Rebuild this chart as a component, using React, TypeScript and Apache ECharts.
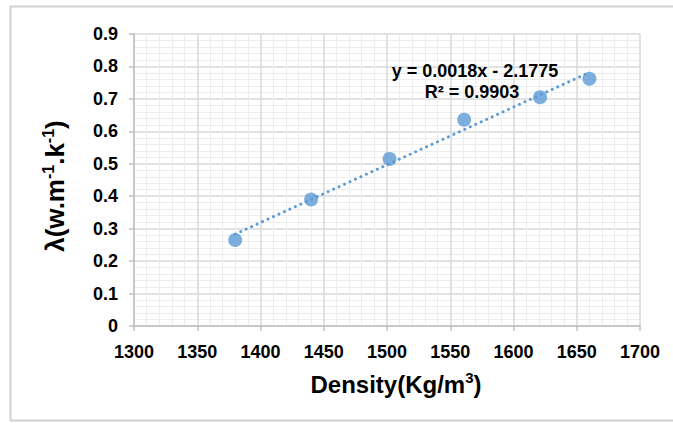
import React, { useEffect, useRef } from "react";
import * as echarts from "echarts";

const densities = [1380, 1440, 1502, 1561, 1621, 1660];
const conductivity = [0.265, 0.39, 0.515, 0.636, 0.705, 0.762];
const equationLines = ["y = 0.0018x - 2.1775", "R² = 0.9903"];
const xAxisTitle = "Density(Kg/m{sup|3})";
const yAxisTitle = "λ(w.m{sup|-1}.k{sup|-1})";

function fitLine(xs: number[], ys: number[]) {
  const n = xs.length;
  const mx = xs.reduce((a, b) => a + b, 0) / n;
  const my = ys.reduce((a, b) => a + b, 0) / n;
  let sxy = 0;
  let sxx = 0;
  for (let i = 0; i < n; i++) {
    sxy += (xs[i] - mx) * (ys[i] - my);
    sxx += (xs[i] - mx) * (xs[i] - mx);
  }
  const slope = sxy / sxx;
  return { slope, intercept: my - slope * mx };
}

export default function App() {
  const ref = useRef<HTMLDivElement>(null);
  useEffect(() => {
    document.body.style.margin = "0";
    if (!ref.current) return;
    const chart = echarts.init(ref.current, undefined, { renderer: "svg" });
    const { slope, intercept } = fitLine(densities, conductivity);
    const xMin = Math.min(...densities);
    const xMax = Math.max(...densities);
    const trend = [
      [xMin, slope * xMin + intercept],
      [xMax, slope * xMax + intercept],
    ];
    const font = "'Liberation Sans', Arial, sans-serif";
    const color = "#5b9bd5";
    const supStyle = {
      fontFamily: font,
      fontSize: 15,
      fontWeight: "bold",
      color: "#000",
      lineHeight: 14,
      verticalAlign: "top",
    };
    chart.setOption({
      animation: false,
      backgroundColor: "#ffffff",
      textStyle: { fontFamily: font },
      grid: { left: 134, right: 33, top: 34, bottom: 97, containLabel: false },
      xAxis: {
        type: "value",
        min: 1300,
        max: 1700,
        interval: 50,
        name: xAxisTitle,
        nameLocation: "middle",
        nameGap: 44,
        nameTextStyle: {
          fontFamily: font,
          fontSize: 24,
          fontWeight: "bold",
          color: "#000",
          lineHeight: 29,
          padding: [0, 0, 0, 18],
          rich: { sup: supStyle },
        },
        axisLine: { show: true, lineStyle: { color: "#bfbfbf", width: 1.5 } },
        axisTick: { show: true, length: 5, inside: false, lineStyle: { color: "#bfbfbf", width: 1.5 } },
        axisLabel: {
          fontFamily: font,
          fontSize: 18,
          fontWeight: "bold",
          color: "#000",
          margin: 17,
          formatter: (v: number) => String(v),
        },
        splitLine: { show: true, lineStyle: { color: "#d9d9d9", width: 1.5 } },
        minorTick: { show: false, splitNumber: 5 },
        minorSplitLine: { show: true, lineStyle: { color: "#ededed", width: 1 } },
      },
      yAxis: {
        type: "value",
        min: 0,
        max: 0.9,
        interval: 0.1,
        name: yAxisTitle,
        nameLocation: "middle",
        nameGap: 64,
        nameTextStyle: {
          fontFamily: font,
          fontSize: 26,
          fontWeight: "bold",
          color: "#000",
          lineHeight: 30,
          padding: [0, 12, 0, 0],
          rich: { sup: { ...supStyle, fontSize: 16 } },
        },
        axisLine: { show: true, lineStyle: { color: "#bfbfbf", width: 1.5 } },
        axisTick: { show: true, length: 5, inside: false, lineStyle: { color: "#bfbfbf", width: 1.5 } },
        axisLabel: {
          fontFamily: font,
          fontSize: 18,
          fontWeight: "bold",
          color: "#000",
          margin: 16,
          formatter: (v: number) => String(parseFloat(v.toFixed(1))),
        },
        splitLine: { show: true, lineStyle: { color: "#d9d9d9", width: 1.5 } },
        minorTick: { show: false, splitNumber: 5 },
        minorSplitLine: { show: true, lineStyle: { color: "#ededed", width: 1 } },
      },
      series: [
        {
          type: "line",
          data: trend,
          symbol: "none",
          lineStyle: { color, width: 3, type: [0.01, 6], cap: "round" },
          silent: true,
          z: 2,
        },
        {
          type: "scatter",
          data: densities.map((d, i) => [d, conductivity[i]]),
          symbol: "circle",
          symbolSize: 14,
          itemStyle: { color },
          z: 3,
        },
      ],
      graphic: [
        {
          type: "rect",
          shape: { x: 10.5, y: 6.5, width: 700, height: 414 },
          style: { fill: "none", stroke: "#d0d0d0", lineWidth: 2 },
          silent: true,
          z: -10,
        },
        {
          type: "text",
          x: 475,
          y: 71,
          style: {
            text: equationLines[0],
            fontFamily: font,
            fontSize: 18,
            fontWeight: "bold",
            fill: "#000",
            align: "center",
            verticalAlign: "middle",
          },
          z: 10,
        },
        {
          type: "text",
          x: 472,
          y: 92,
          style: {
            text: equationLines[1],
            fontFamily: font,
            fontSize: 18,
            fontWeight: "bold",
            fill: "#000",
            align: "center",
            verticalAlign: "middle",
          },
          z: 10,
        },
      ],
    });
    return () => chart.dispose();
  }, []);
  return <div ref={ref} style={{ width: 673, height: 423 }} />;
}
